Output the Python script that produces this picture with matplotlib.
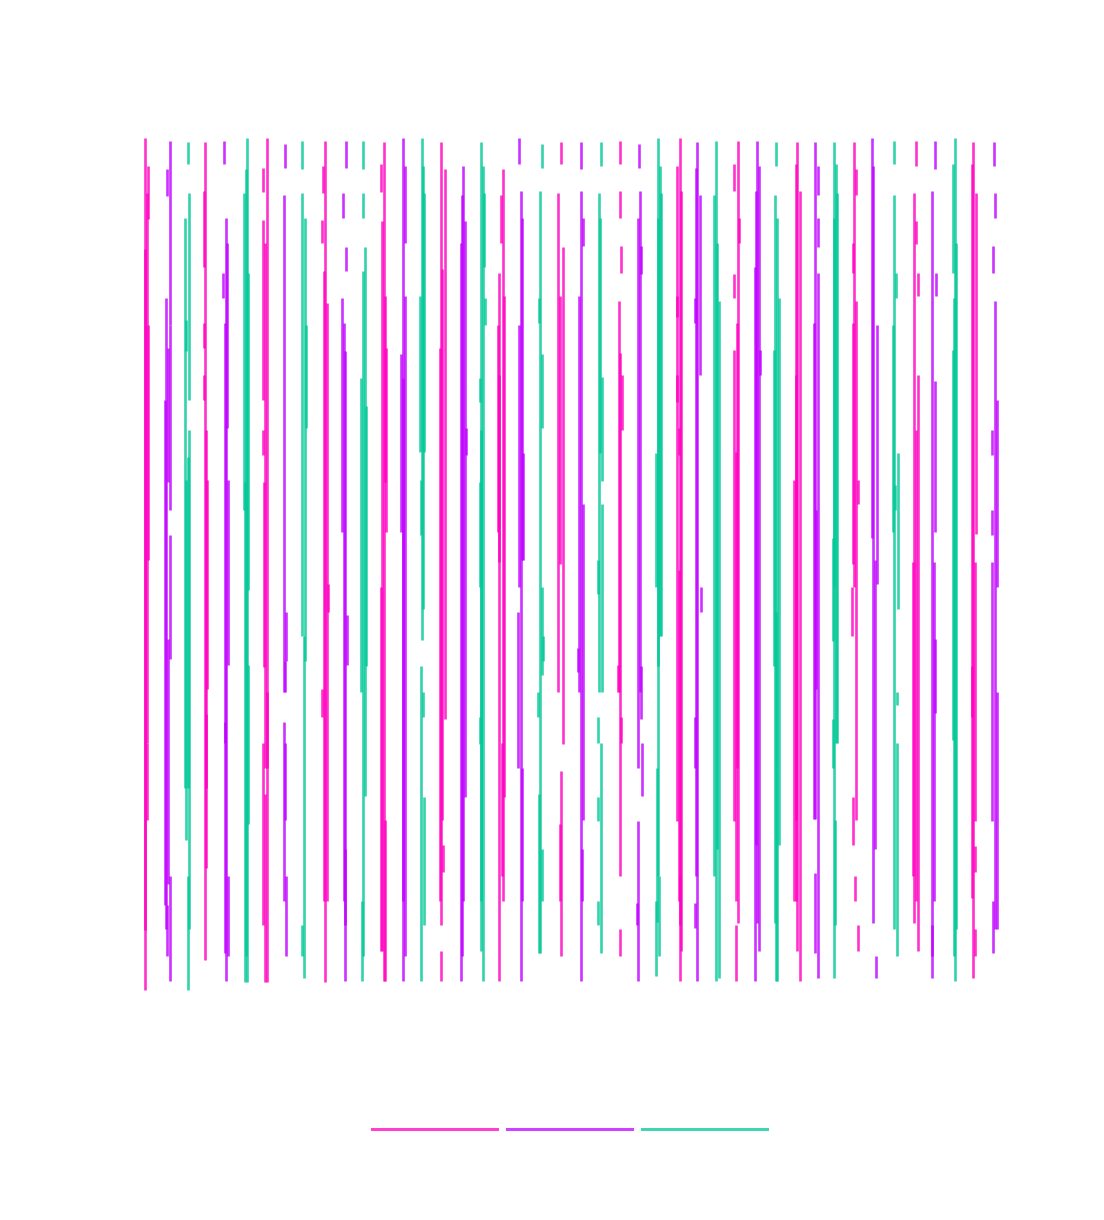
import matplotlib
matplotlib.use("Agg")
import matplotlib.pyplot as plt
from matplotlib.lines import Line2D

# three series, column positions interleave: pink 0,3,6..  violet 1,4,7..  teal 2,5,8..
# each column: list of (x jitter, low, high); jitter in 1/20 of a column step
pink_shift = [0.5, 0.8, 1.6, 2.3, 1.1, 0.9, 0.7, 0.5, 1.3, 1, -0.2, 0.6, -1.6, -0.8, -1.1]
violet_shift = [4, 1, 0.8, 1.6, 1.4, 1.2, 0, 1.7, 0.5, -0.7, 0.1, 0, -2.4, -1.6, 0.2]
teal_shift = [3.2, 2.3, 0.1, 0.9, 0.6, 1.4, 0.2, 1, 0.8, -1.4, -0.7, -0.9, -1.1, -0.3]

pink = [
    [(-1, 0, 100), (3, 90.5, 96.7), (2, 29, 93.5), (0, 7, 87), (3, 50.5, 78), (2, 20, 29)],
    [(0, 3.5, 99.5), (-1.3, 84.8, 93.8), (-1.3, 75.4, 78.3), (-1.3, 69.2, 72.2), (1, 23.7, 65.7), (2.5, 35.3, 59.9), (1, 14.3, 32.4)],
    [(2, 1, 100), (-2, 93.7, 96.5), (-2, 69.2, 90.4), (0, 26, 87.7), (-2, 62.8, 65.7), (-1.5, 37.9, 59.6), (2.5, 26, 35), (-2, 7.6, 29), (0, 1, 23)],
    [(0, 1, 99.6), (-1.5, 93.5, 96.7), (-3, 87.7, 90.4), (-0.5, 10.5, 84.4), (2.5, 10.5, 80.6), (3, 44.4, 47.6), (-2.5, 32.1, 35.3)],
    [(1, 1.1, 99.5), (-2, 93.7, 96.9), (-1.5, 4.6, 90.2), (2, 59.6, 81.5), (3, 53.7, 75.4), (-2.5, 4.6, 47.3), (2, 1.1, 20)],
    [(-1, 7.6, 99.5), (3, 31.8, 96.4), (0, 20, 84.6), (-2, 10.5, 75.4), (1, 13.9, 17), (-1, 1.1, 4.6)],
    [(2, 10.5, 96.4), (0, 87.7, 93.3), (-2, 50.2, 84.1), (3, 22.7, 81.5), (-3, 53.7, 78), (-2, 1.1, 72.2), (1, 13.4, 29)],
    [(1, 97, 99.5), (-2, 35, 93.5), (2.5, 28.9, 87.2), (0, 50, 81.5), (1, 4, 25.7), (-0.5, 10.5, 19.5)],
    [(0, 97, 99.7), (0, 90.6, 93.8), (1, 84.1, 87.3), (-1.5, 35, 80.9), (0, 13.4, 74.8), (2, 65.7, 72.2), (-2.5, 35, 38.2), (1, 29, 32), (-0.5, 4, 7.2)],
    [(1, 1.1, 100), (-2.5, 19.8, 96.7), (2, 4.6, 93.8), (0, 10.5, 49.3), (-2, 79, 81.5), (-2, 69, 72.2), (0, 62.8, 66), (1.5, 7.6, 13.4)],
    [(1, 7.9, 99.7), (-3, 93.8, 96.9), (1.5, 87.7, 90.6), (-3, 81.2, 84), (-3, 19.8, 75.1), (-1, 10.5, 63.1), (0, 26, 78.3), (-1.5, 1.1, 7.6)],
    [(0, 4.6, 99.5), (-1.5, 10.5, 96.9), (2.5, 1.1, 93.8), (-3, 10.5, 59.9), (-1, 20, 72.2)],
    [(0, 47.3, 99.5), (1.5, 93.3, 96.4), (-1.5, 84.1, 87.7), (1.5, 19.9, 80.9), (3.5, 57, 59.9), (-1.5, 50, 78.3), (-2.5, 41.5, 47.3), (-1, 17, 22.7), (1, 10.5, 13.4), (3.5, 4.6, 7.6)],
    [(1.5, 96.7, 99.7), (-0.5, 7.9, 93.5), (1.5, 87.5, 90.2), (3.5, 81.5, 84.1), (3.5, 4.6, 72.2), (1.5, 10.5, 65.7), (-1, 13.4, 50.2)],
    [(0, 1.4, 99.5), (-1, 10.8, 96.9), (2.5, 53.5, 93.5), (1.5, 19.8, 50.2), (-1.5, 32, 38), (1.5, 13.9, 16.9), (1.5, 4, 7.2)],
]

violet = [
    [(1, 78, 99.6), (-2, 93.2, 96.4), (-3, 7.2, 81.2), (-1, 59.6, 75.4), (1, 56.3, 78), (-4, 10, 69.3), (1, 38.9, 53.4), (-1, 12.4, 41.2), (1, 1.1, 13.4), (-2, 4, 10)],
    [(-1, 97, 99.6), (1.5, 1.1, 90.6), (-2, 81.2, 84.1), (0, 29, 78.3), (2.5, 66, 87.7), (3.5, 38.2, 59.9), (0, 4.3, 31.5), (3.5, 4, 13.4)],
    [(1, 96.5, 99.3), (0, 35, 93.3), (2, 38.6, 44.4), (1.5, 35, 38.6), (0, 10.5, 31.5), (2, 4, 13.4), (1, 20, 29)],
    [(2, 96.5, 99.7), (-1, 90.6, 93.5), (2.5, 84.4, 87.2), (-2, 53.7, 81.2), (0, 10.5, 78.3), (1.5, 7.6, 75), (3, 38.2, 44), (1.5, 1.1, 16.6)],
    [(-0.5, 1.1, 100), (2, 87.7, 96.7), (2.5, 4, 81.5), (-2.5, 53.7, 74.7), (0, 10.5, 71.8)],
    [(1, 10.5, 96.7), (0, 4, 93.3), (-1.5, 1.1, 87.7), (2.5, 22.7, 90.2), (3.5, 62.8, 66)],
    [(-1.5, 97, 100), (0.5, 1.1, 93.8), (2, 50.5, 90.6), (3, 50.5, 63), (-1.5, 47.3, 78), (-2, 26, 44.4), (1.5, 10.5, 26)],
    [(0, 96.4, 99.5), (0, 1.1, 93.8), (2, 87.3, 90.6), (-2, 35, 81.5), (2.5, 20, 57), (-3, 37.3, 40.2), (1, 10.5, 16.6)],
    [(0, 96.5, 99.3), (0.5, 35, 93.8), (-1, 26, 90.6), (2, 84, 87.3), (2, 31.8, 38), (3, 22.8, 29), (-1, 1.1, 19.8), (-2, 7.6, 10.2)],
    [(0, 1.1, 99.5), (-1, 13.4, 96.5), (3, 72.2, 93.3), (-2, 78.3, 81.2), (3.5, 44.4, 47.3), (-2, 26, 32), (-2, 7.3, 10.2)],
    [(0, 7.9, 99.7), (1.5, 4.6, 96.7), (-1, 17, 93.8), (-2.5, 1.1, 84.8), (3, 72.2, 75.1)],
    [(-1, 20.1, 99.5), (2, 93.3, 96.7), (2, 87.2, 90.6), (1.5, 1.4, 84.2), (-2, 20.1, 78.3), (0, 35.3, 56.3), (-1, 4.3, 13.7)],
    [(-1, 53.1, 100), (0, 7.9, 96.7), (1.5, 16.6, 50.5), (4, 47.6, 78), (2.5, 1.4, 4)],
    [(1.5, 96.4, 99.7), (-1, 4, 93.8), (2.5, 81.5, 84.2), (1.5, 53.7, 71.5), (0.5, 10.5, 50.2), (2, 32.5, 41.2), (-1, 1.4, 7.6)],
    [(-0.5, 96.7, 99.5), (1, 90.6, 93.5), (-1.5, 84.1, 87.3), (0.5, 7.2, 80.9), (2.5, 47.3, 69.2), (-2.5, 62.8, 65.7), (-2.5, 53.4, 56.3), (-2.5, 19.8, 50.2), (2.5, 7.2, 35), (-1.5, 4.3, 10.5)],
]

teal = [
    [(0, 97, 99.5), (1.5, 69.2, 93.5), (-3, 23.7, 90.6), (-1.5, 75, 78.6), (1.5, 7.2, 65.7), (0, 23.7, 62.5), (-2, 17.6, 59.9), (0, 0, 13.4)],
    [(1, 1, 100), (0, 4, 96.4), (-2, 56.3, 93.5), (2, 47, 84.1), (-1, 1, 59.6), (2, 19.5, 38.2)],
    [(-1, 96.4, 99.6), (-1, 41.5, 93.5), (2, 38.6, 90.6), (3.5, 66, 78), (1.3, 1.4, 41.5), (-1, 4, 7.6)],
    [(0, 96.4, 99.7), (0, 90.6, 93.5), (2, 22.8, 87.2), (0, 4, 84.4), (-2, 35, 71.8), (2.5, 38, 68.6), (-1, 1.1, 10.5)],
    [(0, 41.1, 100), (1, 44.7, 96.7), (2.5, 63.1, 93.5), (-2, 63.1, 81.5), (-1.3, 53.4, 59.9), (-0.5, 1.1, 38), (1, 32, 35), (2, 7.6, 22.7)],
    [(-0.5, 4.6, 99.5), (1, 1.1, 96.7), (2.5, 84.8, 93.5), (3.5, 78, 81.2), (-2.5, 69, 71.8), (-2.5, 47.3, 59.6), (-1.5, 10.5, 65.7), (-2.5, 28.9, 32.1)],
    [(1.5, 96.5, 99.3), (0, 4.3, 93.8), (-1.5, 78.3, 81.2), (2, 66, 74.7), (1.5, 37, 47.3), (3, 38.6, 41.5), (-2, 32, 35), (-1.5, 4.3, 23), (2, 10.5, 16.6)],
    [(1, 96.7, 99.5), (-1, 35, 93.5), (0, 63, 90.6), (1.5, 59.8, 72), (2, 35, 57), (-2, 46.5, 50.5), (-2.5, 29, 32), (1, 4.3, 29), (-2.5, 19.8, 22.7), (-2.5, 7.6, 10.5)],
    [(-1, 13.4, 100), (0.5, 41.5, 96.7), (2, 41.5, 93.5), (-1.5, 38, 90.6), (-3, 47.3, 63), (-2, 8, 26), (-3, 1.7, 10.5), (0, 4, 13.4)],
    [(0, 1.1, 99.7), (-2, 13.4, 93.3), (1, 16.6, 87.7), (3, 1.4, 80.9)],
    [(0, 96.7, 99.5), (-1, 7.9, 93.3), (0.5, 26, 90.6), (3, 17, 81.2), (-2, 38, 75.1), (0, 1.1, 44.4), (1, 1.1, 26)],
    [(-1, 1.4, 99.5), (1, 29, 96.9), (2, 29, 93.5), (-1, 47.3, 90.6), (-2, 41, 53), (-2, 26, 31.8), (0, 7.6, 20)],
    [(-0.5, 97, 99.7), (0, 7.2, 93.3), (1.5, 81.2, 84.1), (4, 44.7, 63), (-1, 53.7, 78), (2.5, 33.5, 35), (2.5, 4, 29), (1, 56.3, 59.3)],
    [(1, 1.1, 100), (-1.5, 84.2, 96.9), (-0.5, 4, 81.2), (1.5, 7.2, 87.7), (-1.5, 29.3, 75.1)],
]

series = [
    (pink, pink_shift, 0, "#ff00c0"),
    (violet, violet_shift, 1, "#c000ff"),
    (teal, teal_shift, 2, "#00c896"),
]

fig = plt.figure(figsize=(11.04, 12.2), dpi=100)
ax = fig.add_axes([0.1224, 0.1885, 0.7868, 0.6984])

for cols, shifts, start, color in series:
    for k, col in enumerate(cols):
        pos = start + 3 * k
        xs = [pos + (shifts[k] + dx) * 0.05 for dx, lo, hi in col]
        lows = [lo for dx, lo, hi in col]
        highs = [hi for dx, lo, hi in col]
        ax.vlines(xs, lows, highs, colors=color, alpha=0.8, linewidth=1.9,
                  capstyle="butt", clip_on=False)

ax.set_xlim(-0.5, 43.5)
ax.set_ylim(0, 100)
ax.axis("off")

handles = [Line2D([], [], color=c, alpha=0.75, linewidth=2.2) for _, _, _, c in series]
fig.legend(handles, ["", "", ""], loc="center", bbox_to_anchor=(0.516, 0.074),
           ncol=3, frameon=False, handlelength=9.0, handletextpad=0,
           columnspacing=0.72)

fig.savefig("out.png", dpi=100, facecolor="white")
